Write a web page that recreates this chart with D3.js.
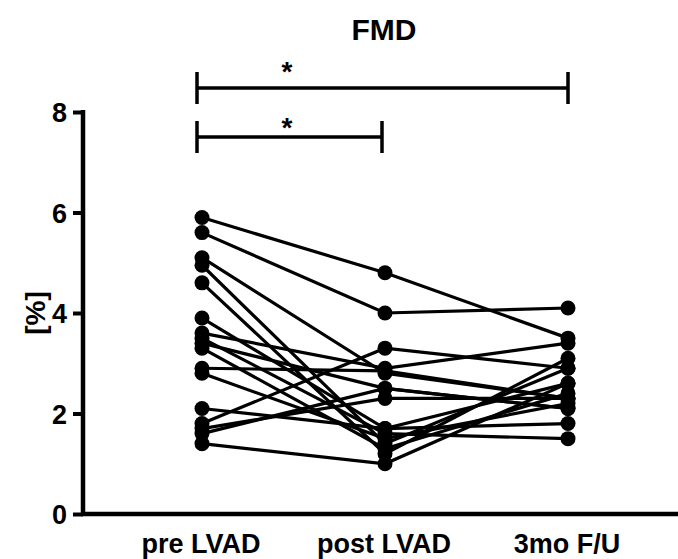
<!DOCTYPE html>
<html><head><meta charset="utf-8">
<script src="https://cdn.jsdelivr.net/npm/d3@7/dist/d3.min.js"></script>
<style>body{margin:0;background:#fff}svg{display:block}</style>
</head><body>
<script>
const categories = ["pre LVAD", "post LVAD", "3mo F/U"];
const preLVAD  = [5.9, 5.6, 5.1, 4.95, 4.6, 3.9, 3.6, 3.5, 3.4, 3.3, 2.9, 2.8, 2.1, 1.8, 1.7, 1.6, 1.4];
const postLVAD = [4.8, 4.0, 2.8, 1.4, 1.2, 1.7, 2.9, 1.6, 2.5, 1.3, 2.85, 1.5, 1.7, 3.3, 2.3, 2.5, 1.0];
const followUp = [3.5, 4.1, 2.3, 2.9, 3.1, 2.6, 3.4, 1.5, 2.1, 2.4, 2.3, 2.2, 1.8, 2.9, 2.3, 2.1, 2.6];
const yTicks = [0, 2, 4, 6, 8];
const title = "FMD";
const yLabel = "[%]";
const brackets = [{from: 0, to: 2, label: "*"}, {from: 0, to: 1, label: "*"}];

const W = 678, H = 559;
const svg = d3.select("body").append("svg").attr("width", W).attr("height", H);
const font = "'Liberation Sans', Arial, sans-serif";

const y = d3.scaleLinear().domain([0, 8]).range([514, 112]);
const x = d3.scalePoint().domain(categories).range([202, 568]);
const axisX = 83;

// subjects
const subjects = preLVAD.map((v, i) => [v, postLVAD[i], followUp[i]]);
const line = d3.line().x((d, i) => x(categories[i])).y(d => y(d));
svg.append("g").selectAll("path").data(subjects).join("path")
  .attr("d", line).attr("fill", "none").attr("stroke", "#000").attr("stroke-width", 3.2);
svg.append("g").selectAll("g").data(subjects).join("g").each(function(s) {
  d3.select(this).selectAll("circle").data(s).join("circle")
    .attr("cx", (d, i) => x(categories[i])).attr("cy", d => y(d)).attr("r", 7.5).attr("fill", "#000");
});

// y axis
const yAxis = d3.axisLeft(y).tickValues(yTicks).tickSize(10).tickSizeOuter(0).tickPadding(6);
const gy = svg.append("g").attr("transform", `translate(${axisX},0)`).call(yAxis);
gy.select(".domain").attr("stroke", "#000").attr("stroke-width", 4.5).attr("d", `M0,${y(8)-2}V${y(0)}`);
gy.selectAll(".tick line").attr("stroke", "#000").attr("stroke-width", 4);
gy.selectAll(".tick text").attr("font-family", font).attr("font-weight", "bold").attr("font-size", 27).attr("fill", "#000").attr("dy", "0.36em");

// x axis
const gx = svg.append("g").attr("transform", `translate(0,${y(0)})`);
gx.append("line").attr("x1", axisX - 2).attr("x2", W).attr("stroke", "#000").attr("stroke-width", 4.5);
gx.selectAll("text").data(categories).join("text")
  .attr("x", d => x(d) - 1).attr("y", 39).attr("text-anchor", "middle")
  .attr("font-family", font).attr("font-weight", "bold").attr("font-size", 27).attr("fill", "#000").text(d => d);

// title
svg.append("text").attr("x", 384).attr("y", 40).attr("text-anchor", "middle")
  .attr("font-family", font).attr("font-weight", "bold").attr("font-size", 30).text(title);

// y label
svg.append("text").attr("transform", `translate(45,${y(4)}) rotate(-90)`).attr("text-anchor", "middle")
  .attr("font-family", font).attr("font-weight", "bold").attr("font-size", 28).text(yLabel);

// significance brackets
const by = [88, 137];
const starBase = [81, 137];
brackets.forEach((b, k) => {
  const x1 = x(categories[b.from]) - 5, x2 = x(categories[b.to]) - (b.to === 2 ? 0 : 3);
  const yy = by[k];
  const g = svg.append("g").attr("stroke", "#000").attr("stroke-width", 3.5);
  g.append("line").attr("x1", x1).attr("x2", x2).attr("y1", yy).attr("y2", yy);
  g.append("line").attr("x1", x1).attr("x2", x1).attr("y1", yy - 16).attr("y2", yy + 16);
  g.append("line").attr("x1", x2).attr("x2", x2).attr("y1", yy - 16).attr("y2", yy + 16);
  svg.append("text").attr("x", 287).attr("y", starBase[k]).attr("text-anchor", "middle")
    .attr("font-family", font).attr("font-weight", "bold").attr("font-size", 28).text(b.label);
});
</script>
</body></html>
